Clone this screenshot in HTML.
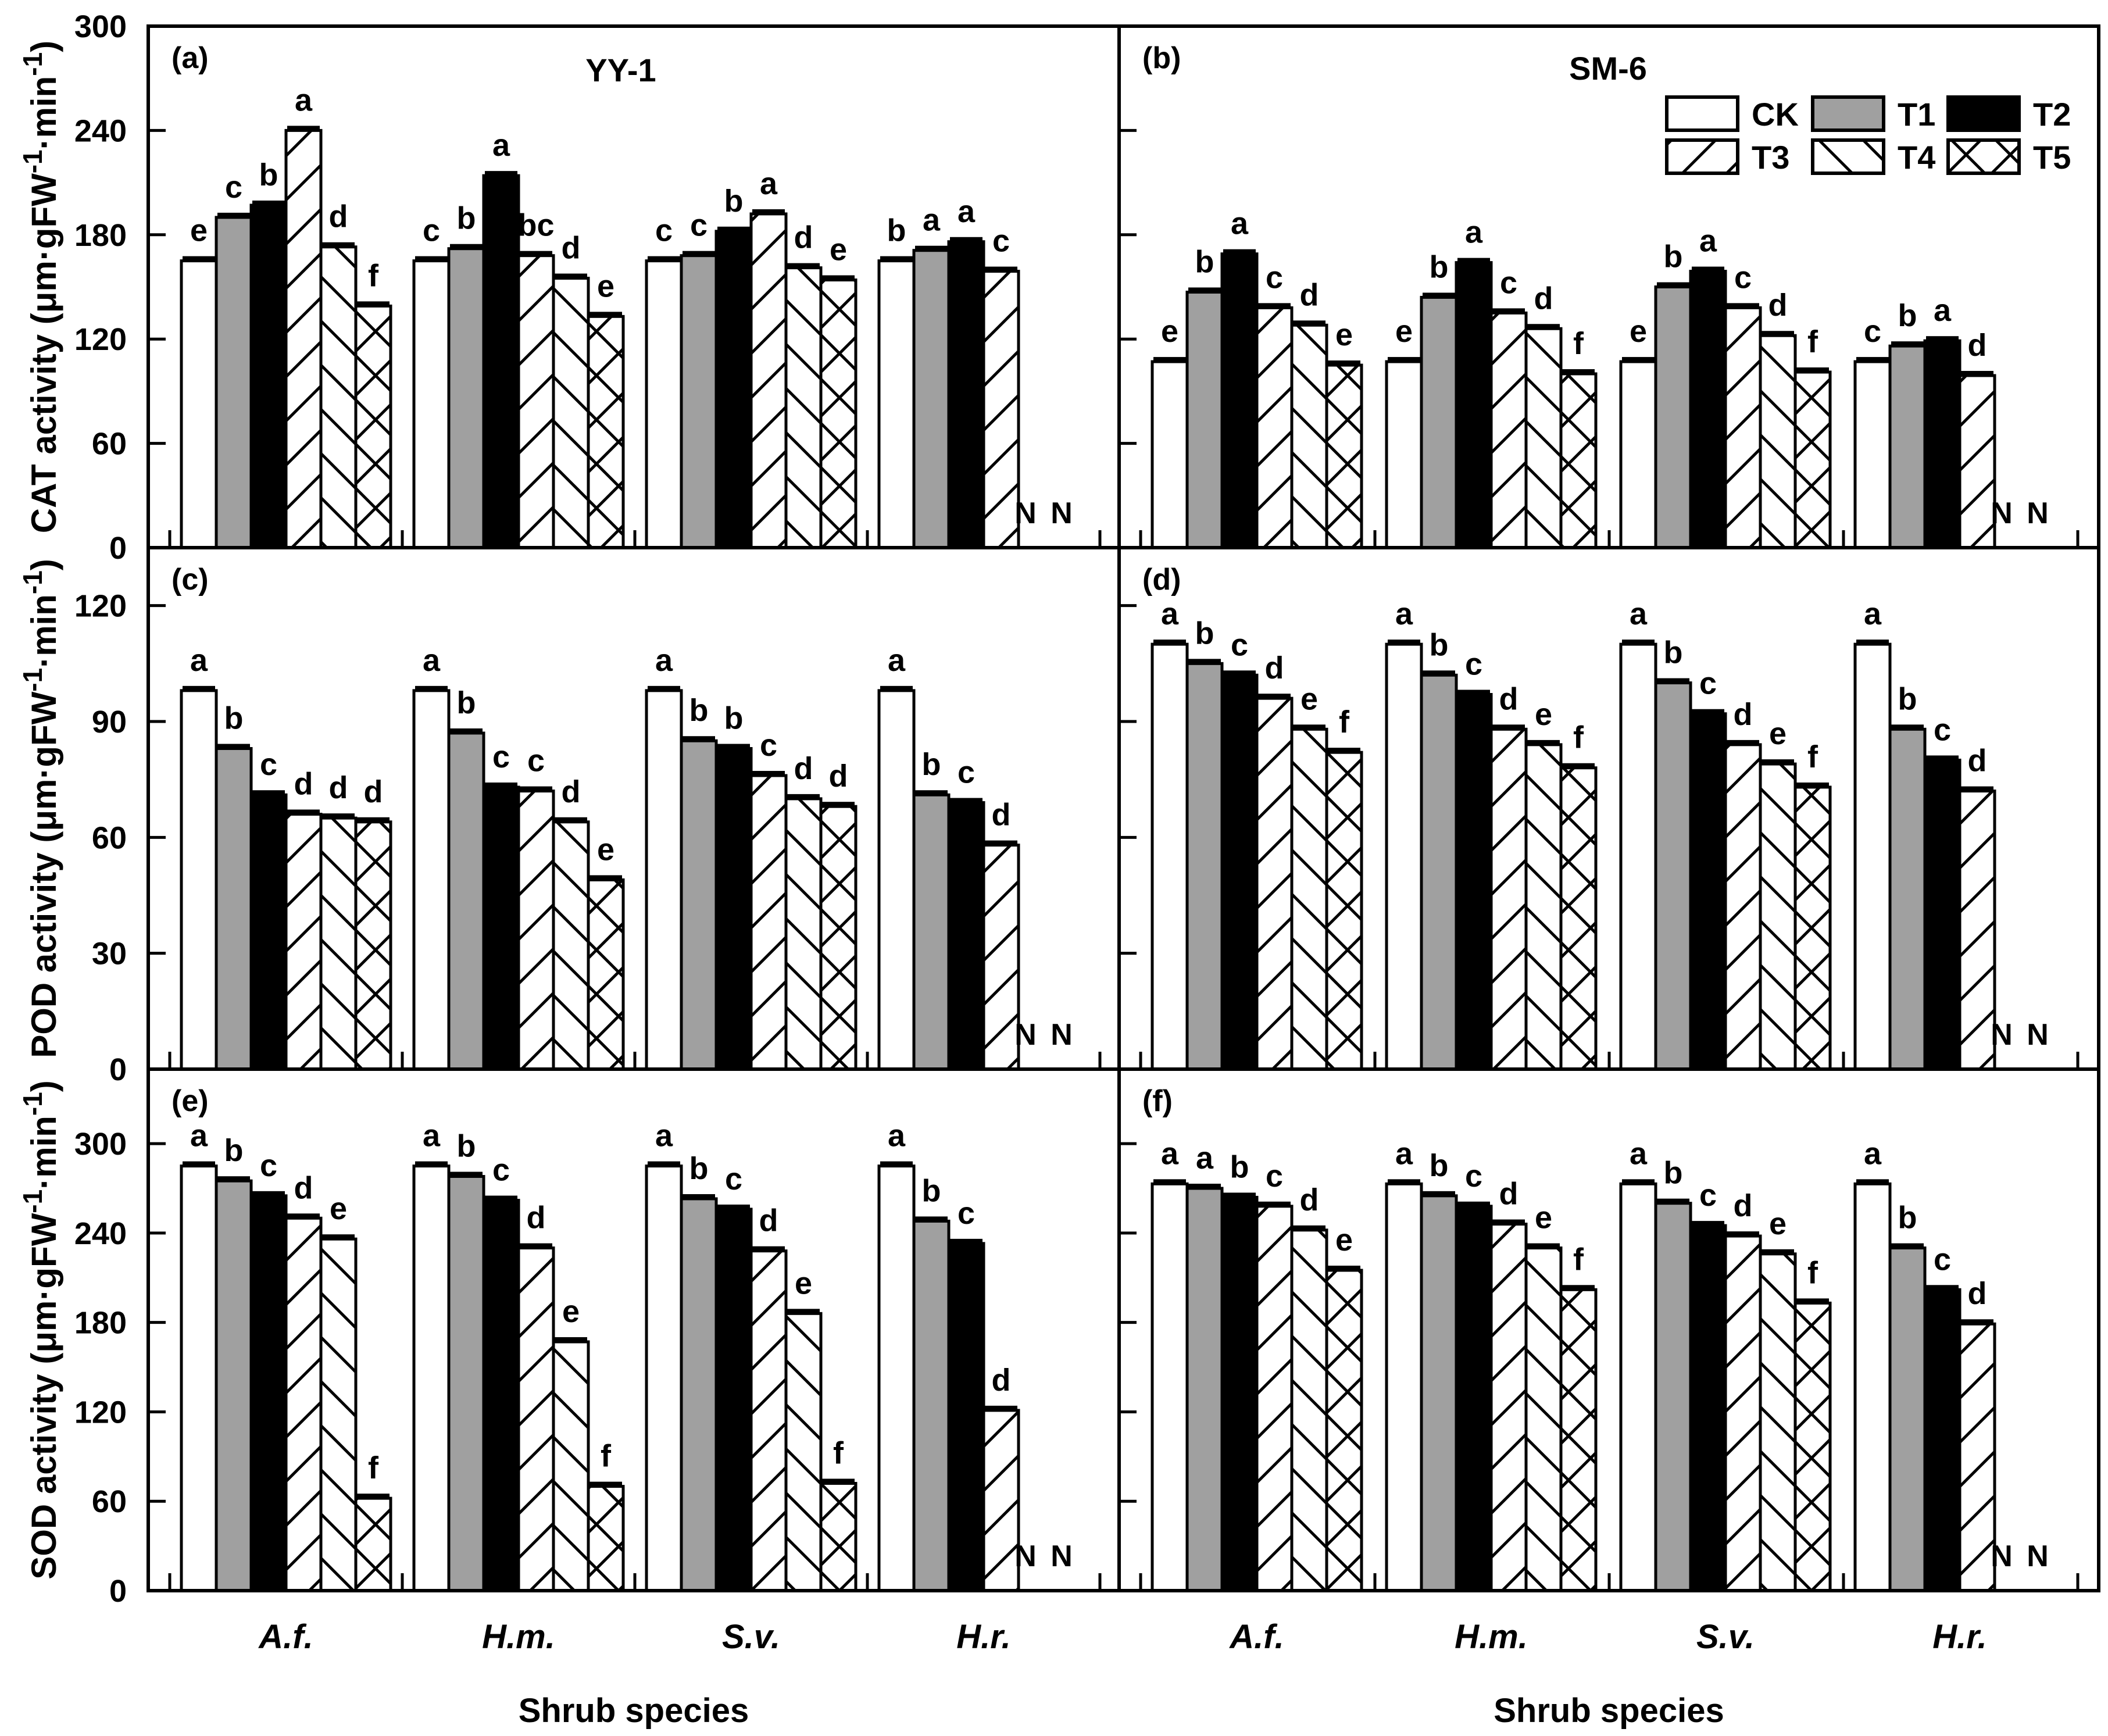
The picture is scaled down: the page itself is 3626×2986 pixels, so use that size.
<!DOCTYPE html>
<html><head><meta charset="utf-8"><style>
html,body{margin:0;padding:0;background:#fff;}
svg{display:block;font-family:"Liberation Sans",Arial,sans-serif;font-weight:bold;}
</style></head><body>
<svg id="chart" xmlns="http://www.w3.org/2000/svg" width="3626" height="2986" viewBox="0 0 3626 2986">
<defs>
<pattern id="pT3" patternUnits="userSpaceOnUse" width="76" height="76"><path d="M-8,84 L84,-8 M-8,8 L8,-8 M68,84 L84,68" stroke="#000" stroke-width="5" fill="none"/></pattern>
<pattern id="pT4" patternUnits="userSpaceOnUse" width="76" height="76"><path d="M-8,-8 L84,84 M-8,68 L8,84 M68,-8 L84,8" stroke="#000" stroke-width="5" fill="none"/></pattern>
<pattern id="pT5" patternUnits="userSpaceOnUse" width="76" height="76"><path d="M-8,84 L84,-8 M-8,8 L8,-8 M68,84 L84,68 M-8,-8 L84,84 M-8,68 L8,84 M68,-8 L84,8" stroke="#000" stroke-width="5" fill="none"/></pattern>
</defs>
<g id="layer"></g>
</svg>
<script>
// ---- data ----
const groups = ["A.f.", "H.m.", "S.v.", "H.r."];
const treatments = ["CK", "T1", "T2", "T3", "T4", "T5"];
const catTicks = [0, 60, 120, 180, 240, 300];
const podTicks = [0, 30, 60, 90, 120];
const sodTicks = [0, 60, 120, 180, 240, 300];
// panel (a) CAT YY-1
const catYY = [[165,190,197,240,173,139],[165,172,214,168,155,133],[165,168,182,192,161,154],[165,171,176,159,null,null]];
const catYYLetters = [["e","c","b","a","d","f"],["c","b","a","bc","d","e"],["c","c","b","a","d","e"],["b","a","a","c","",""]];
// panel (b) CAT SM-6
const catSM = [[107,147,169,138,128,105],[107,144,164,135,126,100],[107,150,159,138,122,101],[107,116,119,99,null,null]];
const catSMLetters = [["e","b","a","c","d","e"],["e","b","a","c","d","f"],["e","b","a","c","d","f"],["c","b","a","d","",""]];
// panel (c) POD YY-1
const podYY = [[98,83,71,66,65,64],[98,87,73,72,64,49],[98,85,83,76,70,68],[98,71,69,58,null,null]];
const podYYLetters = [["a","b","c","d","d","d"],["a","b","c","c","d","e"],["a","b","b","c","d","d"],["a","b","c","d","",""]];
// panel (d) POD SM-6
const podSM = [[110,105,102,96,88,82],[110,102,97,88,84,78],[110,100,92,84,79,73],[110,88,80,72,null,null]];
const podSMLetters = [["a","b","c","d","e","f"],["a","b","c","d","e","f"],["a","b","c","d","e","f"],["a","b","c","d","",""]];
// panel (e) SOD YY-1
const sodYY = [[285,275,265,250,236,62],[285,278,262,230,167,70],[285,263,256,228,186,72],[285,248,233,121,null,null]];
const sodYYLetters = [["a","b","c","d","e","f"],["a","b","c","d","e","f"],["a","b","c","d","e","f"],["a","b","c","d","",""]];
// panel (f) SOD SM-6
const sodSM = [[273,270,264,258,242,215],[273,265,258,246,230,202],[273,260,245,238,226,193],[273,230,202,179,null,null]];
const sodSMLetters = [["a","a","b","c","d","e"],["a","b","c","d","e","f"],["a","b","c","d","e","f"],["a","b","c","d","",""]];

const NS = "http://www.w3.org/2000/svg";
const layer = document.getElementById("layer");
function mk(tag, attrs, parent) {
  const e = document.createElementNS(NS, tag);
  for (const k in attrs) e.setAttribute(k, attrs[k]);
  (parent || layer).appendChild(e);
  return e;
}
const cols = [{x0:255, x1:1925, t0:292, step:400}, {x0:1925, x1:3610, t0:1962, step:403}];
const rowTop = [45, 942, 1839];
const rowH = 897;
const fills = ["#fff", "#a0a0a0", "#000", "url(#pT3)", "url(#pT4)", "url(#pT5)"];
const panels = [
  {c:0,r:0,max:300,vals:catYY,lets:catYYLetters,tag:"(a)",name:"cat-yy1"},
  {c:1,r:0,max:300,vals:catSM,lets:catSMLetters,tag:"(b)",name:"cat-sm6"},
  {c:0,r:1,max:135,vals:podYY,lets:podYYLetters,tag:"(c)",name:"pod-yy1"},
  {c:1,r:1,max:135,vals:podSM,lets:podSMLetters,tag:"(d)",name:"pod-sm6"},
  {c:0,r:2,max:350,vals:sodYY,lets:sodYYLetters,tag:"(e)",name:"sod-yy1"},
  {c:1,r:2,max:350,vals:sodSM,lets:sodSMLetters,tag:"(f)",name:"sod-sm6"}
];
const rowTicks = [catTicks, podTicks, sodTicks];
function yScale(p, v) { const b = rowTop[p.r] + rowH; return b - v * rowH / p.max; }
function xBar(p, g, i) { const c = cols[p.c]; return c.t0 + c.step * g + 20 + 60 * i; }

panels.forEach(p => {
  const c = cols[p.c], top = rowTop[p.r], bot = top + rowH;
  const g0 = mk("g", {});
  
  
  // bars
  p.vals.forEach((arr, g) => {
    arr.forEach((v, i) => {
      if (v === null) return;
      const x = xBar(p, g, i), y = yScale(p, v);
      const r = mk("rect", {x:x, y:y, width:60, height:bot - y, fill:fills[i], stroke:"#000", "stroke-width":5}, g0);
      
      
      const cap = mk("rect", {x:x + 2, y:y - 8, width:56, height:8, fill:"#000"}, g0);
      
      
      const lt = p.lets[g][i];
      if (lt) {
        const t = mk("text", {x:x + 30, y:y - 34, "font-size":54, "text-anchor":"middle"}, g0);
        t.textContent = lt;
        
        
      }
    });
    if (p.vals[g].some(v => v === null)) {
      [0, 1].forEach(k => {
        const nx = xBar(p, g, 4) + 12 + 62 * k;
        const t = mk("text", {x:nx, y:bot - 42, "font-size":52, "text-anchor":"middle"}, g0);
        t.textContent = "N";
        
        
      });
    }
  });
  // group ticks at bottom
  for (let k = 0; k <= 4; k++) {
    const tx = c.t0 + c.step * k;
    const l = mk("line", {x1:tx, x2:tx, y1:bot, y2:bot - 30, stroke:"#000", "stroke-width":5}, g0);
    
    
  }
  // y ticks
  rowTicks[p.r].forEach(tv => {
    const ty = yScale(p, tv);
    if (tv > 0 && ty > top + 2) {
      const l = mk("line", {x1:c.x0, x2:c.x0 + 30, y1:ty, y2:ty, stroke:"#000", "stroke-width":5}, g0);
      
      
    }
    if (p.c === 0) {
      const t = mk("text", {x:218, y:ty + 19, "font-size":54, "text-anchor":"end"}, g0);
      t.textContent = tv;
      
      
    }
  });
  // frame
  const fr = mk("rect", {x:c.x0, y:top, width:c.x1 - c.x0, height:rowH, fill:"none", stroke:"#000", "stroke-width":6}, g0);
  
  
  const pl = mk("text", {x:c.x0 + 40, y:top + 72, "font-size":52}, g0);
  pl.textContent = p.tag;
  
  
});

// x-axis group labels
[0, 1].forEach(ci => {
  const c = cols[ci];
  groups.forEach((gname, g) => {
    const t = mk("text", {x:c.t0 + c.step * g + 200, y:2835, "font-size":58, "font-style":"italic", "text-anchor":"middle"});
    t.textContent = gname;
    
    
  });
  const xt = mk("text", {x:(c.x0 + c.x1) / 2, y:2962, "font-size":58, "text-anchor":"middle"});
  xt.textContent = "Shrub species";
  
  
});

// titles
const tt1 = mk("text", {x:1068, y:140, "font-size":56, "text-anchor":"middle"});
tt1.textContent = "YY-1";


const tt2 = mk("text", {x:2766, y:137, "font-size":56, "text-anchor":"middle"});
tt2.textContent = "SM-6";



// y axis titles
const yTitles = ["CAT activity", "POD activity", "SOD activity"];
yTitles.forEach((nm, r) => {
  const cy = rowTop[r] + rowH / 2;
  const t = mk("text", {transform:"translate(96," + cy + ") rotate(-90)", "font-size":60, "text-anchor":"middle"});
  
  
  t.innerHTML = nm + ' (μm·gFW<tspan dy="-24" font-size="46">-1</tspan><tspan dy="24">·min</tspan><tspan dy="-24" font-size="46">-1</tspan><tspan dy="24">)</tspan>';
});

// legend
const legX = [2867, 3118, 3351];
const legY = [167, 241];
treatments.forEach((tr, i) => {
  const lx = legX[i % 3], ly = legY[Math.floor(i / 3)];
  const g = mk("g", {});
  
  
  mk("rect", {x:lx, y:ly, width:122, height:57, fill:fills[i], stroke:"#000", "stroke-width":6}, g);
  const t = mk("text", {x:lx + 146, y:ly + 49, "font-size":56}, g);
  t.textContent = tr;
});
</script>
</body></html>
